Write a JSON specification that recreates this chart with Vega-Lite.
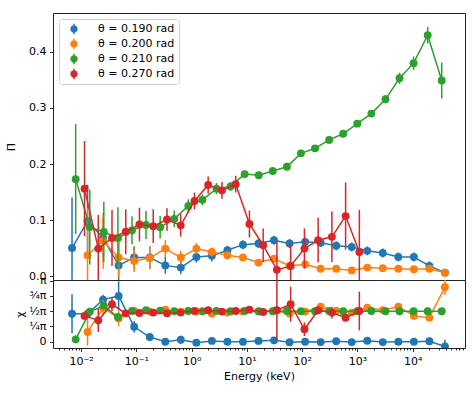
{
"$schema": "https://vega.github.io/schema/vega-lite/v6.json",
"padding": {"left": 5, "top": 12, "right": 5, "bottom": 5},
"spacing": 0,
"bounds": "flush",
"config": {
  "font": "DejaVu Sans",
  "view": {"stroke": "#222", "strokeWidth": 1},
  "axis": {"domain": false, "grid": false, "tickColor": "#000", "tickSize": 3.5, "tickWidth": 0.8, "labelFontSize": 11, "labelColor": "#000", "titleFontSize": 11, "titleFontWeight": "normal", "titleColor": "#000", "labelPadding": 3.5, "labelOverlap": false, "labelBound": false, "labelFlush": false},
  "legend": {"labelFontSize": 11, "labelColor": "#000", "padding": 4, "strokeColor": "#d0d0d0", "fillColor": "rgba(255,255,255,0.8)", "cornerRadius": 3, "rowPadding": 3, "symbolSize": 110, "symbolOffset": 5, "labelOffset": 18}
},
"resolve": {"scale": {"color": "independent"}, "legend": {"color": "independent"}},
"data": {"values": [
{"s":"b","th":"θ = 0.190 rad","E":0.006871,"P":0.050,"Pe":0.09,"C":1.44,"Ce":1.0},
{"s":"b","th":"θ = 0.190 rad","E":0.01312,"P":0.098,"Pe":0.065,"C":1.44,"Ce":0.2},
{"s":"b","th":"θ = 0.190 rad","E":0.02506,"P":0.068,"Pe":0.035,"C":2.17,"Ce":0.25},
{"s":"b","th":"θ = 0.190 rad","E":0.04786,"P":0.019,"Pe":0.05,"C":2.36,"Ce":0.75},
{"s":"b","th":"θ = 0.190 rad","E":0.09141,"P":0.033,"Pe":0.02,"C":0.77,"Ce":0.3},
{"s":"b","th":"θ = 0.190 rad","E":0.1750,"P":0.033,"Pe":0.02,"C":0.24,"Ce":0.15},
{"s":"b","th":"θ = 0.190 rad","E":0.3342,"P":0.019,"Pe":0.015,"C":0.0,"Ce":0.1},
{"s":"b","th":"θ = 0.190 rad","E":0.6383,"P":0.015,"Pe":0.012,"C":0.10,"Ce":0.2},
{"s":"b","th":"θ = 0.190 rad","E":1.219,"P":0.034,"Pe":0.01,"C":-0.05,"Ce":0.05},
{"s":"b","th":"θ = 0.190 rad","E":2.328,"P":0.036,"Pe":0.01,"C":0.04,"Ce":0.05},
{"s":"b","th":"θ = 0.190 rad","E":4.446,"P":0.046,"Pe":0.008,"C":0.0,"Ce":0.05},
{"s":"b","th":"θ = 0.190 rad","E":8.492,"P":0.056,"Pe":0.008,"C":0.0,"Ce":0.05},
{"s":"b","th":"θ = 0.190 rad","E":16.22,"P":0.058,"Pe":0.008,"C":0.04,"Ce":0.05},
{"s":"b","th":"θ = 0.190 rad","E":30.97,"P":0.064,"Pe":0.008,"C":0.07,"Ce":0.05},
{"s":"b","th":"θ = 0.190 rad","E":59.16,"P":0.058,"Pe":0.008,"C":-0.03,"Ce":0.05},
{"s":"b","th":"θ = 0.190 rad","E":113.2,"P":0.061,"Pe":0.008,"C":0.0,"Ce":0.05},
{"s":"b","th":"θ = 0.190 rad","E":216.3,"P":0.0595,"Pe":0.008,"C":-0.02,"Ce":0.05},
{"s":"b","th":"θ = 0.190 rad","E":413.0,"P":0.054,"Pe":0.008,"C":0.02,"Ce":0.05},
{"s":"b","th":"θ = 0.190 rad","E":788.9,"P":0.052,"Pe":0.008,"C":-0.02,"Ce":0.05},
{"s":"b","th":"θ = 0.190 rad","E":1507,"P":0.045,"Pe":0.008,"C":0.05,"Ce":0.05},
{"s":"b","th":"θ = 0.190 rad","E":2877,"P":0.041,"Pe":0.008,"C":-0.02,"Ce":0.05},
{"s":"b","th":"θ = 0.190 rad","E":5495,"P":0.034,"Pe":0.008,"C":0.0,"Ce":0.05},
{"s":"b","th":"θ = 0.190 rad","E":10495,"P":0.034,"Pe":0.008,"C":0.0,"Ce":0.05},
{"s":"b","th":"θ = 0.190 rad","E":20045,"P":0.018,"Pe":0.008,"C":0.02,"Ce":0.08},
{"s":"b","th":"θ = 0.190 rad","E":38282,"P":0.006,"Pe":0.006,"C":-0.25,"Ce":0.35},
{"s":"o","th":"θ = 0.200 rad","E":0.01312,"P":0.037,"Pe":0.084,"C":0.5,"Ce":0.7},
{"s":"o","th":"θ = 0.200 rad","E":0.02506,"P":0.0625,"Pe":0.05,"C":1.75,"Ce":0.4},
{"s":"o","th":"θ = 0.200 rad","E":0.04786,"P":0.033,"Pe":0.035,"C":1.2,"Ce":0.4},
{"s":"o","th":"θ = 0.200 rad","E":0.09141,"P":0.027,"Pe":0.02,"C":1.6,"Ce":0.15},
{"s":"o","th":"θ = 0.200 rad","E":0.1750,"P":0.032,"Pe":0.02,"C":1.55,"Ce":0.15},
{"s":"o","th":"θ = 0.200 rad","E":0.3342,"P":0.049,"Pe":0.015,"C":1.65,"Ce":0.1},
{"s":"o","th":"θ = 0.200 rad","E":0.6383,"P":0.033,"Pe":0.012,"C":1.55,"Ce":0.1},
{"s":"o","th":"θ = 0.200 rad","E":1.219,"P":0.049,"Pe":0.01,"C":1.55,"Ce":0.08},
{"s":"o","th":"θ = 0.200 rad","E":2.328,"P":0.043,"Pe":0.008,"C":1.45,"Ce":0.08},
{"s":"o","th":"θ = 0.200 rad","E":4.446,"P":0.037,"Pe":0.008,"C":1.5,"Ce":0.06},
{"s":"o","th":"θ = 0.200 rad","E":8.492,"P":0.033,"Pe":0.006,"C":1.55,"Ce":0.06},
{"s":"o","th":"θ = 0.200 rad","E":16.22,"P":0.024,"Pe":0.006,"C":1.55,"Ce":0.06},
{"s":"o","th":"θ = 0.200 rad","E":30.97,"P":0.031,"Pe":0.006,"C":1.6,"Ce":0.08},
{"s":"o","th":"θ = 0.200 rad","E":59.16,"P":0.018,"Pe":0.006,"C":1.45,"Ce":0.1},
{"s":"o","th":"θ = 0.200 rad","E":113.2,"P":0.021,"Pe":0.006,"C":1.55,"Ce":0.1},
{"s":"o","th":"θ = 0.200 rad","E":216.3,"P":0.013,"Pe":0.005,"C":1.8,"Ce":0.1},
{"s":"o","th":"θ = 0.200 rad","E":413.0,"P":0.013,"Pe":0.005,"C":1.6,"Ce":0.1},
{"s":"o","th":"θ = 0.200 rad","E":788.9,"P":0.010,"Pe":0.005,"C":1.5,"Ce":0.1},
{"s":"o","th":"θ = 0.200 rad","E":1507,"P":0.015,"Pe":0.005,"C":1.75,"Ce":0.1},
{"s":"o","th":"θ = 0.200 rad","E":2877,"P":0.014,"Pe":0.005,"C":1.63,"Ce":0.1},
{"s":"o","th":"θ = 0.200 rad","E":5495,"P":0.013,"Pe":0.005,"C":1.8,"Ce":0.1},
{"s":"o","th":"θ = 0.200 rad","E":10495,"P":0.012,"Pe":0.005,"C":1.33,"Ce":0.1},
{"s":"o","th":"θ = 0.200 rad","E":20045,"P":0.013,"Pe":0.005,"C":1.24,"Ce":0.1},
{"s":"o","th":"θ = 0.200 rad","E":38282,"P":0.006,"Pe":0.005,"C":2.82,"Ce":0.4},
{"s":"g","th":"θ = 0.210 rad","E":0.00800,"P":0.173,"Pe":0.098,"C":0.12,"Ce":0.2},
{"s":"g","th":"θ = 0.210 rad","E":0.01439,"P":0.0875,"Pe":0.067,"C":1.55,"Ce":0.2},
{"s":"g","th":"θ = 0.210 rad","E":0.02582,"P":0.0786,"Pe":0.054,"C":1.85,"Ce":0.15},
{"s":"g","th":"θ = 0.210 rad","E":0.04645,"P":0.068,"Pe":0.055,"C":1.27,"Ce":0.2},
{"s":"g","th":"θ = 0.210 rad","E":0.08356,"P":0.0816,"Pe":0.025,"C":1.58,"Ce":0.1},
{"s":"g","th":"θ = 0.210 rad","E":0.1500,"P":0.091,"Pe":0.025,"C":1.62,"Ce":0.1},
{"s":"g","th":"θ = 0.210 rad","E":0.2698,"P":0.087,"Pe":0.02,"C":1.6,"Ce":0.08},
{"s":"g","th":"θ = 0.210 rad","E":0.4853,"P":0.102,"Pe":0.015,"C":1.57,"Ce":0.06},
{"s":"g","th":"θ = 0.210 rad","E":0.8730,"P":0.125,"Pe":0.012,"C":1.58,"Ce":0.05},
{"s":"g","th":"θ = 0.210 rad","E":1.567,"P":0.136,"Pe":0.01,"C":1.57,"Ce":0.05},
{"s":"g","th":"θ = 0.210 rad","E":2.818,"P":0.156,"Pe":0.01,"C":1.58,"Ce":0.04},
{"s":"g","th":"θ = 0.210 rad","E":5.070,"P":0.160,"Pe":0.008,"C":1.57,"Ce":0.04},
{"s":"g","th":"θ = 0.210 rad","E":9.099,"P":0.182,"Pe":0.006,"C":1.58,"Ce":0.04},
{"s":"g","th":"θ = 0.210 rad","E":16.37,"P":0.180,"Pe":0.006,"C":1.57,"Ce":0.04},
{"s":"g","th":"θ = 0.210 rad","E":29.44,"P":0.1875,"Pe":0.006,"C":1.57,"Ce":0.04},
{"s":"g","th":"θ = 0.210 rad","E":52.97,"P":0.195,"Pe":0.006,"C":1.58,"Ce":0.04},
{"s":"g","th":"θ = 0.210 rad","E":95.06,"P":0.219,"Pe":0.006,"C":1.57,"Ce":0.04},
{"s":"g","th":"θ = 0.210 rad","E":171.0,"P":0.228,"Pe":0.006,"C":1.57,"Ce":0.04},
{"s":"g","th":"θ = 0.210 rad","E":307.6,"P":0.243,"Pe":0.006,"C":1.58,"Ce":0.04},
{"s":"g","th":"θ = 0.210 rad","E":552.1,"P":0.254,"Pe":0.006,"C":1.57,"Ce":0.04},
{"s":"g","th":"θ = 0.210 rad","E":993.1,"P":0.272,"Pe":0.006,"C":1.57,"Ce":0.04},
{"s":"g","th":"θ = 0.210 rad","E":1786,"P":0.290,"Pe":0.006,"C":1.58,"Ce":0.04},
{"s":"g","th":"θ = 0.210 rad","E":3214,"P":0.3155,"Pe":0.007,"C":1.57,"Ce":0.04},
{"s":"g","th":"θ = 0.210 rad","E":5768,"P":0.353,"Pe":0.01,"C":1.57,"Ce":0.04},
{"s":"g","th":"θ = 0.210 rad","E":10375,"P":0.380,"Pe":0.012,"C":1.57,"Ce":0.04},
{"s":"g","th":"θ = 0.210 rad","E":18664,"P":0.430,"Pe":0.015,"C":1.57,"Ce":0.04},
{"s":"g","th":"θ = 0.210 rad","E":33497,"P":0.349,"Pe":0.032,"C":1.57,"Ce":0.05},
{"s":"r","th":"θ = 0.270 rad","E":0.01156,"P":0.156,"Pe":0.085,"C":1.33,"Ce":0.15},
{"s":"r","th":"θ = 0.270 rad","E":0.02051,"P":0.049,"Pe":0.06,"C":1.1,"Ce":0.6},
{"s":"r","th":"θ = 0.270 rad","E":0.03631,"P":0.068,"Pe":0.05,"C":1.93,"Ce":0.35},
{"s":"r","th":"θ = 0.270 rad","E":0.06442,"P":0.079,"Pe":0.04,"C":1.46,"Ce":0.15},
{"s":"r","th":"θ = 0.270 rad","E":0.1140,"P":0.092,"Pe":0.03,"C":1.48,"Ce":0.1},
{"s":"r","th":"θ = 0.270 rad","E":0.2023,"P":0.089,"Pe":0.03,"C":1.5,"Ce":0.1},
{"s":"r","th":"θ = 0.270 rad","E":0.3589,"P":0.101,"Pe":0.02,"C":1.46,"Ce":0.1},
{"s":"r","th":"θ = 0.270 rad","E":0.6353,"P":0.0905,"Pe":0.02,"C":1.5,"Ce":0.1},
{"s":"r","th":"θ = 0.270 rad","E":1.127,"P":0.134,"Pe":0.015,"C":1.58,"Ce":0.08},
{"s":"r","th":"θ = 0.270 rad","E":1.995,"P":0.1625,"Pe":0.015,"C":1.62,"Ce":0.08},
{"s":"r","th":"θ = 0.270 rad","E":3.540,"P":0.153,"Pe":0.015,"C":1.55,"Ce":0.08},
{"s":"r","th":"θ = 0.270 rad","E":6.281,"P":0.164,"Pe":0.015,"C":1.58,"Ce":0.08},
{"s":"r","th":"θ = 0.270 rad","E":11.12,"P":0.093,"Pe":0.024,"C":1.65,"Ce":0.1},
{"s":"r","th":"θ = 0.270 rad","E":19.72,"P":0.055,"Pe":0.03,"C":1.53,"Ce":0.15},
{"s":"r","th":"θ = 0.270 rad","E":34.91,"P":0.011,"Pe":0.05,"C":1.62,"Ce":1.55},
{"s":"r","th":"θ = 0.270 rad","E":61.94,"P":0.018,"Pe":0.04,"C":1.93,"Ce":0.9},
{"s":"r","th":"θ = 0.270 rad","E":109.9,"P":0.049,"Pe":0.036,"C":0.64,"Ce":0.35},
{"s":"r","th":"θ = 0.270 rad","E":194.5,"P":0.064,"Pe":0.04,"C":1.62,"Ce":0.15},
{"s":"r","th":"θ = 0.270 rad","E":345.1,"P":0.070,"Pe":0.045,"C":1.5,"Ce":0.3},
{"s":"r","th":"θ = 0.270 rad","E":610.9,"P":0.107,"Pe":0.06,"C":1.24,"Ce":0.2},
{"s":"r","th":"θ = 0.270 rad","E":1084,"P":0.043,"Pe":0.075,"C":1.58,"Ce":1.0}
]},
"vconcat": [
{
  "width": 412, "height": 267,
  "encoding": {
    "x": {"field": "E", "type": "quantitative", "scale": {"type": "log", "domain": [0.00311, 88300], "nice": false}, "axis": null},
    "y": {"field": "P", "type": "quantitative", "title": "Π", "scale": {"domain": [-0.0071, 0.4696], "nice": false, "zero": false}, "axis": {"values": [0, 0.1, 0.2, 0.3, 0.4], "format": ".1f", "titlePadding": 12}}
  },
  "layer": [
    {"transform": [{"filter": "datum.s=='b'"}], "mark": {"type": "errorbar", "clip": true, "color": "#1f77b4", "thickness": 1.5}, "encoding": {"yError": {"field": "Pe"}}},
    {"transform": [{"filter": "datum.s=='b'"}], "mark": {"type": "line", "clip": true, "color": "#1f77b4", "strokeWidth": 1.5}},
    {"transform": [{"filter": "datum.s=='b'"}], "mark": {"type": "point", "filled": true, "clip": true, "size": 62, "opacity": 1}, "encoding": {"color": {"field": "th", "type": "nominal", "scale": {"domain": ["θ = 0.190 rad", "θ = 0.200 rad", "θ = 0.210 rad", "θ = 0.270 rad"], "range": ["#1f77b4", "#ff7f0e", "#2ca02c", "#d62728"]}, "legend": {"title": null, "orient": "top-left", "offset": 6, "symbolType": "M-0.14,-1L0.14,-1L0.14,1L-0.14,1ZM0.7,0A0.7,0.7,0,1,1,-0.7,0A0.7,0.7,0,1,1,0.7,0Z"}}}},
    {"transform": [{"filter": "datum.s=='o'"}], "mark": {"type": "errorbar", "clip": true, "color": "#ff7f0e", "thickness": 1.5}, "encoding": {"yError": {"field": "Pe"}}},
    {"transform": [{"filter": "datum.s=='o'"}], "mark": {"type": "line", "clip": true, "color": "#ff7f0e", "strokeWidth": 1.5}},
    {"transform": [{"filter": "datum.s=='o'"}], "mark": {"type": "point", "filled": true, "clip": true, "size": 62, "opacity": 1}, "encoding": {"color": {"field": "th", "type": "nominal"}}},
    {"transform": [{"filter": "datum.s=='g'"}], "mark": {"type": "errorbar", "clip": true, "color": "#2ca02c", "thickness": 1.5}, "encoding": {"yError": {"field": "Pe"}}},
    {"transform": [{"filter": "datum.s=='g'"}], "mark": {"type": "line", "clip": true, "color": "#2ca02c", "strokeWidth": 1.5}},
    {"transform": [{"filter": "datum.s=='g'"}], "mark": {"type": "point", "filled": true, "clip": true, "size": 62, "opacity": 1}, "encoding": {"color": {"field": "th", "type": "nominal"}}},
    {"transform": [{"filter": "datum.s=='r'"}], "mark": {"type": "errorbar", "clip": true, "color": "#d62728", "thickness": 1.5}, "encoding": {"yError": {"field": "Pe"}}},
    {"transform": [{"filter": "datum.s=='r'"}], "mark": {"type": "line", "clip": true, "color": "#d62728", "strokeWidth": 1.5}},
    {"transform": [{"filter": "datum.s=='r'"}], "mark": {"type": "point", "filled": true, "clip": true, "size": 62, "opacity": 1}, "encoding": {"color": {"field": "th", "type": "nominal"}}}
  ]
},
{
  "width": 412, "height": 68,
  "encoding": {
    "x": {"field": "E", "type": "quantitative", "title": "Energy (keV)", "scale": {"type": "log", "domain": [0.00311, 88300], "nice": false}, "axis": {"titlePadding": 4, "values": [0.004,0.005,0.006,0.007,0.008,0.009,0.01,0.02,0.03,0.04,0.05,0.06,0.07,0.08,0.09,0.1,0.2,0.3,0.4,0.5,0.6,0.7,0.8,0.9,1,2,3,4,5,6,7,8,9,10,20,30,40,50,60,70,80,90,100,200,300,400,500,600,700,800,900,1000,2000,3000,4000,5000,6000,7000,8000,9000,10000,20000,30000,40000,50000,60000,70000,80000], "labelExpr": "datum.value==0.01?'10⁻²':datum.value==0.1?'10⁻¹':datum.value==1?'10⁰':datum.value==10?'10¹':datum.value==100?'10²':datum.value==1000?'10³':datum.value==10000?'10⁴':''", "tickSize": {"condition": {"test": "indexof([0.01,0.1,1,10,100,1000,10000], datum.value) >= 0", "value": 3.5}, "value": 2}}},
    "y": {"field": "C", "type": "quantitative", "title": "χ", "scale": {"domain": [-0.325, 3.18], "nice": false, "zero": false}, "axis": {"values": [0, 0.7853981634, 1.5707963268, 2.3561944902, 3.1415926536], "labelExpr": "datum.value < 0.1 ? '0' : datum.value < 1 ? '¼π' : datum.value < 2 ? '½π' : datum.value < 3 ? '¾π' : 'π'", "titlePadding": 3}}
  },
  "layer": [
    {"transform": [{"filter": "datum.s=='b'"}], "mark": {"type": "errorbar", "clip": true, "color": "#1f77b4", "thickness": 1.5}, "encoding": {"yError": {"field": "Ce"}}},
    {"transform": [{"filter": "datum.s=='b'"}], "mark": {"type": "line", "clip": true, "color": "#1f77b4", "strokeWidth": 1.5}},
    {"transform": [{"filter": "datum.s=='b'"}], "mark": {"type": "point", "filled": true, "clip": true, "size": 62, "opacity": 1, "color": "#1f77b4"}},
    {"transform": [{"filter": "datum.s=='o'"}], "mark": {"type": "errorbar", "clip": true, "color": "#ff7f0e", "thickness": 1.5}, "encoding": {"yError": {"field": "Ce"}}},
    {"transform": [{"filter": "datum.s=='o'"}], "mark": {"type": "line", "clip": true, "color": "#ff7f0e", "strokeWidth": 1.5}},
    {"transform": [{"filter": "datum.s=='o'"}], "mark": {"type": "point", "filled": true, "clip": true, "size": 62, "opacity": 1, "color": "#ff7f0e"}},
    {"transform": [{"filter": "datum.s=='g'"}], "mark": {"type": "errorbar", "clip": true, "color": "#2ca02c", "thickness": 1.5}, "encoding": {"yError": {"field": "Ce"}}},
    {"transform": [{"filter": "datum.s=='g'"}], "mark": {"type": "line", "clip": true, "color": "#2ca02c", "strokeWidth": 1.5}},
    {"transform": [{"filter": "datum.s=='g'"}], "mark": {"type": "point", "filled": true, "clip": true, "size": 62, "opacity": 1, "color": "#2ca02c"}},
    {"transform": [{"filter": "datum.s=='r'"}], "mark": {"type": "errorbar", "clip": true, "color": "#d62728", "thickness": 1.5}, "encoding": {"yError": {"field": "Ce"}}},
    {"transform": [{"filter": "datum.s=='r'"}], "mark": {"type": "line", "clip": true, "color": "#d62728", "strokeWidth": 1.5}},
    {"transform": [{"filter": "datum.s=='r'"}], "mark": {"type": "point", "filled": true, "clip": true, "size": 62, "opacity": 1, "color": "#d62728"}}
  ]
}
]
}
